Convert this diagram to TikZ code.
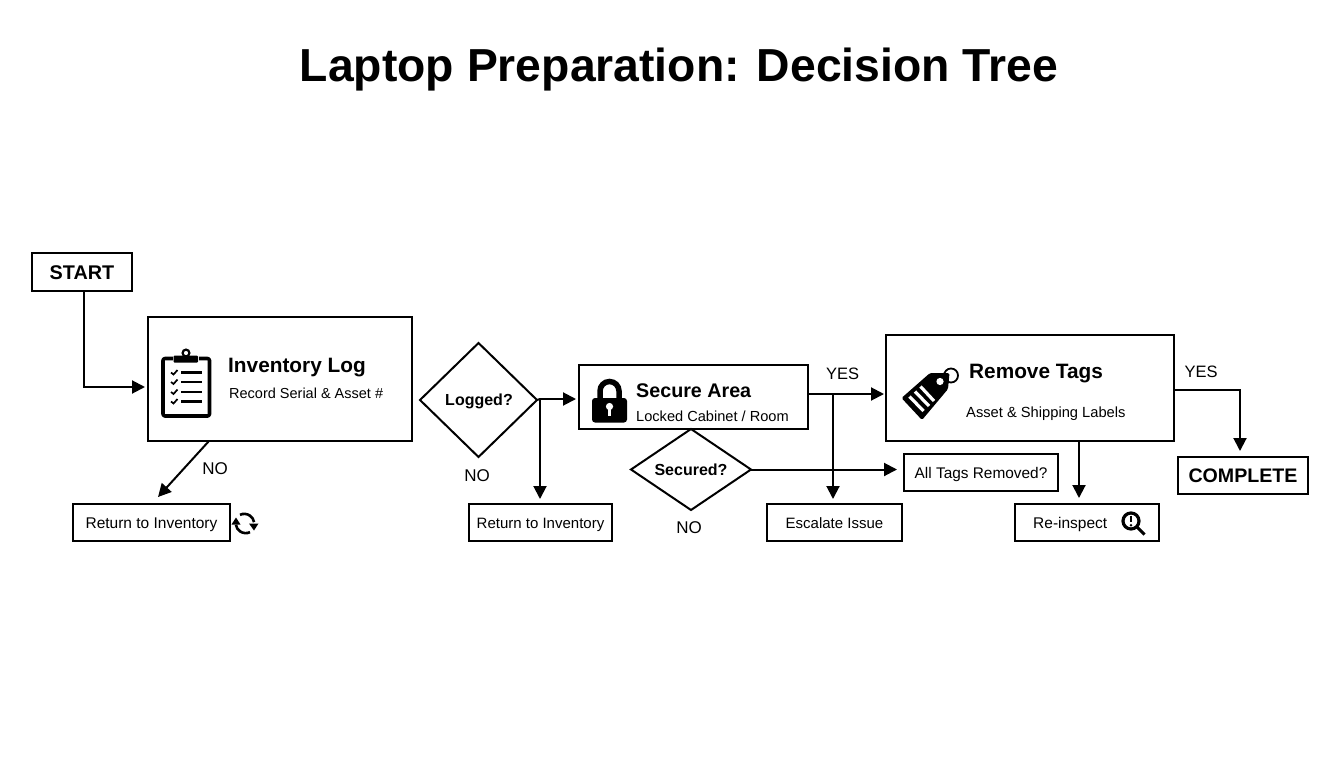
\documentclass[tikz,border=0pt]{standalone}
\usepackage{fontspec}
\setmainfont{Liberation Sans}
\usetikzlibrary{arrows.meta,shapes.geometric,calc}
\newcommand{\fs}[1]{\fontsize{#1}{#1}\selectfont}
\tikzset{
 box/.style={draw=black,line width=2pt,fill=white,inner sep=0pt,outer sep=0pt,anchor=north west},
 dia/.style={draw=black,line width=2pt,fill=white,inner sep=0pt,outer sep=0pt},
 lbl/.style={inner sep=0pt,text=black},
 conn/.style={draw=black,line width=2pt,-{Triangle[length=13pt,width=13pt]}},
 link/.style={draw=black,line width=2pt},
 ico/.style={black,line width=3.6pt},
}
\begin{document}
\begin{tikzpicture}[x=1pt,y=-1pt]
\useasboundingbox (0,0) rectangle (1344,768);
\node[lbl] (title) at (679,70) {\fs{46.3}\bfseries Laptop Preparation: Decision Tree};

\node[box,minimum width=100pt,minimum height=38pt] (start) at (32,253) {};
\node[lbl] (startt) at (82,273) {\fs{19.8}\bfseries START};
\node[box,minimum width=264pt,minimum height=124pt] (inv) at (148,317) {};
\node[box,minimum width=157pt,minimum height=37pt] (ret1) at (73,504) {};
\node[lbl] (ret1t) at (151.5,524.5) {\fs{15.5}Return to Inventory};
\node[dia,diamond,aspect=1,minimum width=117pt,minimum height=114pt] (logged) at (478.5,400) {};
\node[lbl] (loggedt) at (479,401) {\fs{16}\bfseries Logged?};
\node[box,minimum width=143pt,minimum height=37pt] (ret2) at (469,504) {};
\node[lbl] (ret2t) at (540.5,524.5) {\fs{15}Return to Inventory};
\node[box,minimum width=229pt,minimum height=64pt] (sec) at (579,365) {};
\node[dia,diamond,minimum width=120pt,minimum height=81pt] (secd) at (691,469.5) {};
\node[lbl] (secdt) at (secd.center) {\fs{16}\bfseries Secured?};
\node[box,minimum width=154pt,minimum height=37pt] (alltags) at (904,454) {};
\node[lbl] (alltagst) at (981,474.5) {\fs{15.4}All Tags Removed?};
\node[box,minimum width=135pt,minimum height=37pt] (esc) at (767,504) {};
\node[lbl] (esct) at (834.5,523.5) {\fs{15}Escalate Issue};
\node[box,minimum width=288pt,minimum height=106pt] (rem) at (886,335) {};
\node[box,minimum width=144pt,minimum height=37pt] (reins) at (1015,504) {};
\node[box,minimum width=130pt,minimum height=37pt] (comp) at (1178,457) {\fs{19.6}\bfseries COMPLETE};

\node[lbl,anchor=west] (invt) at (228,368) {\fs{20.8}\bfseries Inventory Log};
\node[lbl,anchor=west] (invs) at (229,393) {\fs{14.5}Record Serial \& Asset \#};
\node[lbl,anchor=west] (sect) at (636,391) {\fs{19.7}\bfseries Secure Area};
\node[lbl,anchor=west] (secs) at (636,416.5) {\fs{14.6}Locked Cabinet / Room};
\node[lbl,anchor=west] (remt) at (969,374) {\fs{20.8}\bfseries Remove Tags};
\node[lbl,anchor=west] (rems) at (966,414) {\fs{14.7}Asset \& Shipping Labels};
\node[lbl,anchor=west] (reint) at (1033,524) {\fs{15.5}Re-inspect};

\node[lbl] (no1) at (215,468.5) {\fs{17}NO};
\node[lbl] (no2) at (477,476) {\fs{17}NO};
\node[lbl] (no3) at (689,527.5) {\fs{17}NO};
\node[lbl] (yes1) at (842.5,374) {\fs{16.5}YES};
\node[lbl] (yes2) at (1201,372) {\fs{16.5}YES};

% connectors
\coordinate (c1) at ($(start.south west)!0.52!(start.south east)$);
\draw[conn,shorten >=3pt] (c1) |- (inv.west |- 0,387);
\coordinate (c2) at (209,441);
\coordinate (c3) at (158,497);
\draw[conn] (c2) -- (c3);
\coordinate (b1) at (540,399);
\draw[link] (logged.east) -- (b1);
\draw[conn,shorten >=3pt] (b1) -- (sec.west |- b1);
\draw[conn,shorten >=5pt] (b1) -- (b1 |- ret2.north);
\coordinate (s1) at (sec.east |- 0,394);
\coordinate (b2) at (833,394);
\draw[conn,shorten >=2pt] (s1) -- (rem.west |- s1);
\draw[conn,shorten >=5pt] (b2) -- (b2 |- esc.north);
\draw[conn,shorten >=7pt] (secd.east) -- (alltags.west |- secd.east);
\coordinate (r1) at (1079,441);
\draw[conn,shorten >=6pt] (r1) -- (r1 |- reins.north);
\coordinate (r2) at (1174,390);
\coordinate (r3) at (1240,451);
\draw[conn] (r2) -| (r3);

% clipboard
\draw[ico,line join=round,rounded corners=2pt] (173,358.5) -- (163,358.5) -- (163,416) -- (209.5,416) -- (209.5,358.5) -- (199,358.5);
\fill[black,rounded corners=1pt] (173.5,355.5) rectangle (198,362.5);
\draw[black,line width=2.2pt] (186,353) circle (3.4pt);
\foreach \y in {372.5,382,392,401.5}{
 \draw[black,line width=2.4pt] (181,\y) -- (201.5,\y);
 \draw[black,line width=1.7pt] (171,\y) -- (173.5,\y+2) -- (177.5,\y-2.5);
}
% lock
\draw[black,line width=5.5pt] (600,400) -- (600,391) arc[start angle=180,end angle=0,radius=9.5pt] -- (619,400);
\fill[black,rounded corners=3pt] (592,398) rectangle (627,422.5);
\fill[white] (609.5,406.5) circle (3.6pt);
\fill[white] (607.7,407) rectangle (611.3,416);
% tag
\fill[black,rounded corners=1.5pt] (901.5,398) -- (922,420) -- (948,389) -- (949.5,373) -- (930,373) -- cycle;
\fill[white] (940,381.5) circle (3.6pt);
\draw[black,line width=1.8pt] (951,375.5) circle (7pt);
\draw[white,line width=3.2pt] (909.5,396.5) -- (923.5,411);
\draw[white,line width=3.2pt] (915,391.5) -- (929,406);
\draw[white,line width=3.2pt] (920.5,386.5) -- (934,401);
% magnifier
\draw[black,line width=3.2pt] (1131,521) circle (8pt);
\draw[black,line width=3pt] (1137,527) -- (1144.5,534.5);
\draw[black,line width=2.6pt] (1131,515.5) -- (1131,522);
\fill[black] (1131,525.3) circle (1.4pt);
% refresh
\draw[black,line width=2.6pt] (240,514.8) arc[start angle=115,end angle=10,radius=10pt];
\fill[black] (249,523.5) -- (258.5,523.5) -- (254,530.5) -- cycle;
\draw[black,line width=2.6pt] (250,532.2) arc[start angle=-65,end angle=-170,radius=10pt];
\fill[black] (231.5,524.5) -- (240.5,524.5) -- (236,517.5) -- cycle;
\end{tikzpicture}
\end{document}
